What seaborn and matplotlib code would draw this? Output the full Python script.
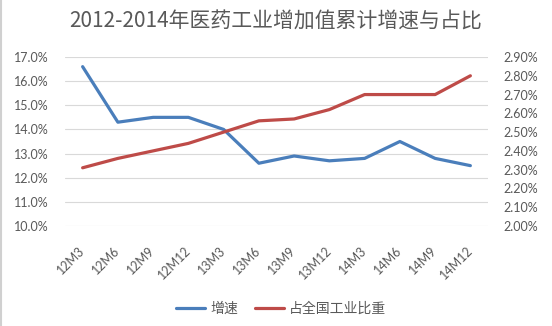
import matplotlib
matplotlib.use("Agg")
import matplotlib.pyplot as plt
import seaborn as sns
from matplotlib.lines import Line2D
from matplotlib.ticker import FuncFormatter, MultipleLocator

# ---- data ----
periods = ["12M3", "12M6", "12M9", "12M12", "13M3", "13M6",
           "13M9", "13M12", "14M3", "14M6", "14M9", "14M12"]
growth = [16.6, 14.3, 14.5, 14.5, 14.0, 12.6, 12.9, 12.7, 12.8, 13.5, 12.8, 12.5]
share = [2.31, 2.36, 2.40, 2.44, 2.50, 2.56, 2.57, 2.62, 2.70, 2.70, 2.70, 2.80]
title = "2012-2014年医药工业增加值累计增速与占比"
series_names = ["增速", "占全国工业比重"]

BLUE = "#4A7EBB"
RED = "#BE4B48"
GRAY = "#595959"

sns.set_theme(style="white")
plt.rcParams["font.family"] = ["Lato", "Noto Sans CJK SC", "DejaVu Sans"]

W, H = 552, 326
fig = plt.figure(figsize=(W / 100, H / 100), dpi=100)
ax = fig.add_axes([65 / W, 1 - 226 / H, (488 - 65) / W, (226 - 57) / H])
ax2 = ax.twinx()

sns.lineplot(x=periods, y=growth, ax=ax, sort=False, color=BLUE, lw=2.3,
             label=series_names[0], legend=False)
sns.lineplot(x=periods, y=share, ax=ax2, sort=False, color=RED, lw=2.3,
             label=series_names[1], legend=False)

ax.set_xlim(-0.5, len(periods) - 0.5)
ax.set_ylim(10, 17)
ax2.set_ylim(2.0, 2.9)
ax.yaxis.set_major_locator(MultipleLocator(1))
ax2.yaxis.set_major_locator(MultipleLocator(0.1))
ax.yaxis.set_major_formatter(FuncFormatter(lambda v, p: f"{v:.1f}%"))
ax2.yaxis.set_major_formatter(FuncFormatter(lambda v, p: f"{v:.2f}%"))

ax.grid(axis="y", color="#D9D9D9", lw=0.8)
ax.grid(axis="x", visible=False)
ax2.grid(False)
for a in (ax, ax2):
    for s in a.spines.values():
        s.set_visible(False)
    a.set_xlabel("")
    a.set_ylabel("")

ax.tick_params(axis="y", length=0, pad=12, labelsize=9, labelcolor=GRAY)
ax2.tick_params(axis="y", length=0, pad=11, labelsize=9, labelcolor=GRAY)
ax.tick_params(axis="x", length=0, pad=16, labelsize=9, labelcolor=GRAY)
ax.set_xticks(range(len(periods)))
ax.set_xticklabels(periods)
for lab in ax.get_xticklabels():
    lab.set_rotation(45)
    lab.set_ha("right")
    lab.set_va("center")
    lab.set_rotation_mode("anchor")

fig.text(0.5, 1 - 22 / H, title, ha="center", va="center", fontsize=15,
         color=GRAY, fontweight="light", family=["Noto Sans CJK SC", "DejaVu Sans"])

handles = [Line2D([], [], color=BLUE, lw=2.3), Line2D([], [], color=RED, lw=2.3)]
fig.legend(handles, series_names, loc="center", bbox_to_anchor=(281 / W, 1 - 309 / H),
           ncol=2, frameon=False, handlelength=2.1, handletextpad=0.4,
           columnspacing=1.2,
           prop={"family": ["Noto Sans CJK SC"], "size": 10, "weight": "light"},
           labelcolor=GRAY)

fig.add_artist(Line2D([1 / W, 1 / W], [0, 1], color="#D0D0D0", lw=1.5,
                      transform=fig.transFigure))

fig.savefig("out.png", dpi=100)
